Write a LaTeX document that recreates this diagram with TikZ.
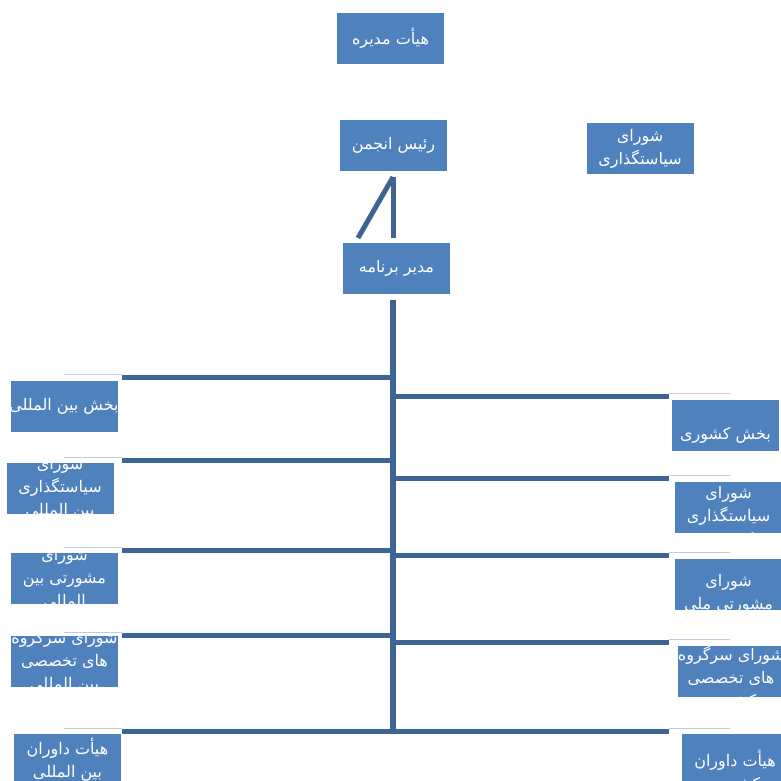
\documentclass[tikz,border=0pt]{standalone}
\usepackage{fontspec}
\newfontfamily\farsi[Script=Arabic]{DejaVu Sans}
\TeXXeTstate=1
\usetikzlibrary{calc}
\definecolor{unitblue}{RGB}{79,129,189}
\definecolor{linkblue}{RGB}{62,100,150}
\definecolor{paleblue}{RGB}{185,205,229}
\def\fa#1{\beginR #1\endR}
\def\orgbox[#1](#2)(#3)#4{\node[unitbox,path picture={\node[unitlabel,#1] at (path picture bounding box.center) {#4};}] (#2) at (#3) {};}

\tikzset{
	unitbox/.style={fill=unitblue, minimum width=107pt, minimum height=51pt, inner sep=0pt},
	unitlabel/.style={text=white, align=center, inner sep=0pt, font={\farsi\fontsize{16}{23}\selectfont}},
	branch/.style={draw=linkblue, line width=5pt},
	trunk/.style={draw=linkblue, line width=6pt},
	stub/.style={draw=paleblue, line width=1pt}
}

\begin{document}
\begin{tikzpicture}[x=1pt, y=-1pt]
	%%%%% START %%%%%
	\useasboundingbox (0,0) rectangle (781,781);
	
	% chair to manager
	\coordinate (chairfoot) at (393, 177);
	\coordinate (managerhead) at (393, 238);
	\coordinate (slantfoot) at (358, 238);
	\draw[branch] (chairfoot) -- (managerhead);
	\draw[branch] (chairfoot) -- (slantfoot);
	
	% trunk
	\coordinate (trunktop) at (393, 300);
	\coordinate (trunkfoot) at (393, 733.5);
	\draw[trunk] (trunktop) -- (trunkfoot);
	
	% branches
	\foreach \y [count=\i] in {377, 460, 550, 635, 731} {
		\coordinate (west\i) at (122, \y);
		\coordinate (westjoin\i) at (393, \y);
		\draw[branch] (west\i) -- (westjoin\i);
		\draw[stub] ($(west\i)+(0,-2.5)$) -- +(-58,0);
	}
	\foreach \y [count=\i] in {396, 478, 555, 642, 731} {
		\coordinate (east\i) at (669, \y);
		\coordinate (eastjoin\i) at (393, \y);
		\draw[branch] (eastjoin\i) -- (east\i);
		\draw[stub] ($(east\i)+(0,-2.5)$) -- +(61,0);
	}
	
	% top
	\orgbox[](board)(390.5, 38.5){\fa{هیأت مدیره}}
	\orgbox[](chair)(393.5, 145.5){\fa{رئیس انجمن}}
	\orgbox[](policy)(640, 148.5){\fa{شورای}\\\fa{سیاستگذاری}}
	\orgbox[](manager)(396.5, 268.5){\fa{مدیر برنامه}}
	
	% international
	\orgbox[](intl)(64, 406.5){\fa{بخش بین المللی}}
	\orgbox[](intlpolicy)(60, 488.5){\fa{شورای}\\\fa{سیاستگذاری}\\\fa{بین المللی}}
	\orgbox[](intladvisory)(64.5, 578.5){\fa{شورای}\\\fa{مشورتی بین}\\\fa{المللی}}
	\orgbox[](intlgroups)(64.5, 661){\fa{شورای سرگروه}\\\fa{های تخصصی}\\\fa{بین المللی}}
	\orgbox[](intljury)(67.5, 759.5){\fa{هیأت داوران}\\\fa{بین المللی}}
	
	% national
	\orgbox[yshift=-10pt](natl)(725.5, 425.5){\fa{بخش کشوری}}
	\orgbox[yshift=-10pt](natlpolicy)(728.5, 507.5){\fa{شورای}\\\fa{سیاستگذاری}\\\fa{کشوری}}
	\orgbox[yshift=-10pt](natladvisory)(728.5, 584){\fa{شورای}\\\fa{مشورتی ملی}}
	\orgbox[yshift=-7pt](natlgroups)(731, 671.5){\fa{شورای سرگروه}\\\fa{های تخصصی}\\\fa{کشوری}}
	\orgbox[yshift=-12pt](natljury)(735, 759.5){\fa{هیأت داوران}\\\fa{کشوری}}
	
	%%%%% END %%%%%
\end{tikzpicture}
\end{document}
